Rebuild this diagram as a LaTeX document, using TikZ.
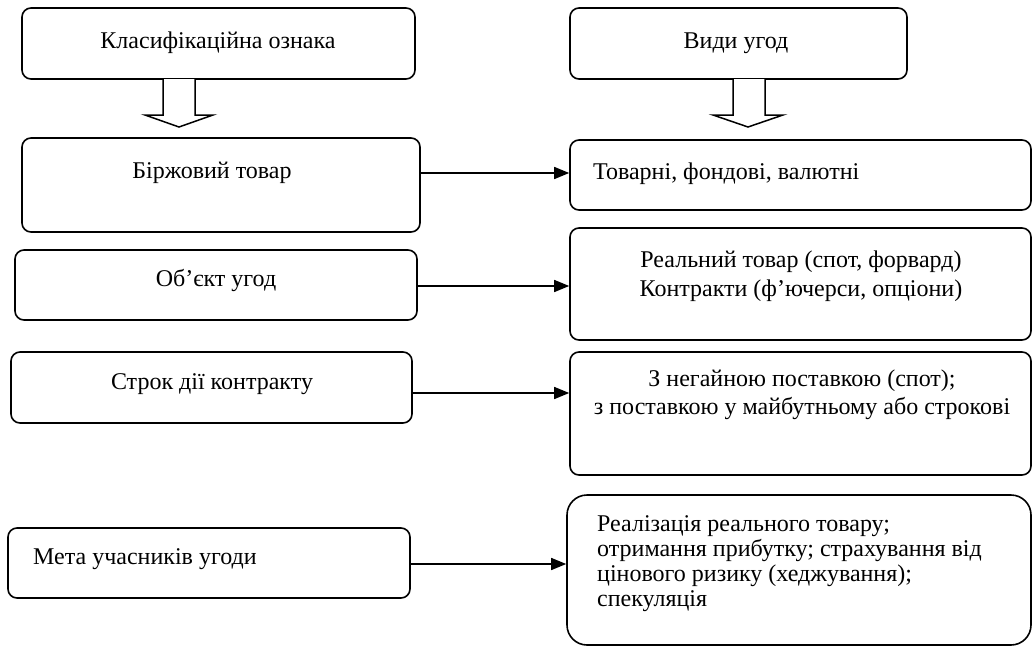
\documentclass[tikz,border=0pt]{standalone}
\usepackage{fontspec}
\setmainfont{Liberation Serif}
\usetikzlibrary{arrows.meta,positioning}
\tikzset{
  bx/.style={draw, line width=1.6pt, rounded corners=9pt, inner sep=0pt},
  txt/.style={font=\fontsize{24}{25}\selectfont, inner sep=0pt},
  conn/.style={-{Triangle[length=15pt,width=12pt]}, line width=1.5pt},
  blockarr/.style={draw, line width=1.5pt, fill=white, line join=miter},
}

\begin{document}
\begin{tikzpicture}[x=1pt, y=-1pt]
  \useasboundingbox (0,0) rectangle (1033,648);
  % headers
  \node[bx, minimum width=393pt, minimum height=71pt] (klas) at (218.5,43.5) {};
  \node[bx, minimum width=337pt, minimum height=71pt] (vydy) at (738.5,43.5) {};
  \node[txt, anchor=base] (klastxt) at (218,48) {Класифікаційна ознака};
  \node[txt, anchor=base] (vydytxt) at (736,48) {Види угод};
  \draw[blockarr] (163,79) -- (163,115) -- (145,115) -- (179,127) -- (213,115) -- (195,115) -- (195,79);
  \draw[blockarr] (733,79) -- (733,115) -- (713,115) -- (748,127) -- (783,115) -- (765,115) -- (765,79);
  % left column
  \node[bx, minimum width=398pt, minimum height=94pt] (birzh) at (221,185) {};
  \node[bx, minimum width=402pt, minimum height=70pt] (obj) at (216,285) {};
  \node[bx, minimum width=401pt, minimum height=71pt] (strok) at (211.5,387.5) {};
  \node[bx, minimum width=402pt, minimum height=70pt] (meta) at (209,563) {};
  \node[txt, anchor=base] (birzhtxt) at (212,178) {Біржовий товар};
  \node[txt, anchor=base] (objtxt) at (216,286) {Об’єкт угод};
  \node[txt, anchor=base] (stroktxt) at (212,389) {Строк дії контракту};
  \node[txt, anchor=base west] (metatxt) at (33,564) {Мета учасників угоди};
  % right column
  \node[bx, minimum width=461pt, minimum height=70pt] (tovar) at (800.5,175) {};
  \node[bx, minimum width=461pt, minimum height=112pt] (real) at (800.5,284) {};
  \node[bx, minimum width=461pt, minimum height=123pt] (negain) at (800.5,413.5) {};
  \node[bx, rounded corners=20pt, minimum width=464pt, minimum height=150pt] (realiz) at (799,570) {};
  \node[txt, anchor=base west] (tovartxt) at (593,179) {Товарні, фондові, валютні};
  \node[txt, align=center] (realtxt) at (801,276) {Реальний товар (спот, форвард)\\[4pt]Контракти (ф’ючерси, опціони)};
  \node[txt, align=center] (negaintxt) at (802,395) {З негайною поставкою (спот);\\[3pt]з поставкою у майбутньому або строкові};
  \node[txt, align=left, anchor=west] (realiztxt) at (597,564) {Реалізація реального товару;\\отримання прибутку; страхування від\\цінового ризику (хеджування);\\спекуляція};
  % connectors
  \draw[conn] ([yshift=12pt]birzh.east) -- ([yshift=12pt]birzh.east -| tovar.west);
  \draw[conn] ([yshift=-1pt]obj.east) -- ([yshift=-1pt]obj.east -| real.west);
  \draw[conn] ([yshift=-5.5pt]strok.east) -- ([yshift=-5.5pt]strok.east -| negain.west);
  \draw[conn] ([yshift=-1pt]meta.east) -- ([yshift=-1pt]meta.east -| realiz.west);
\end{tikzpicture}
\end{document}
